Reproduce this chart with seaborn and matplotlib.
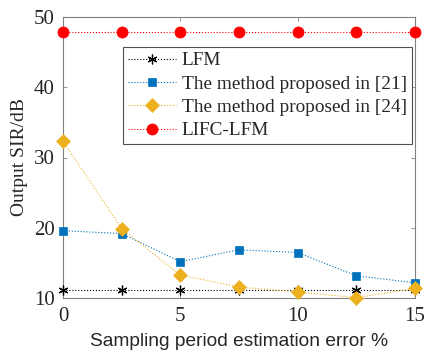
import numpy as np
import pandas as pd
import matplotlib
matplotlib.use("Agg")
import matplotlib.pyplot as plt
import seaborn as sns

x = [0, 2.5, 5, 7.5, 10, 12.5, 15]
lfm = [11.2, 11.2, 11.2, 11.2, 11.2, 11.2, 11.2]
m21 = [19.6, 19.2, 15.2, 16.9, 16.5, 13.2, 12.2]
m24 = [32.3, 19.9, 13.3, 11.6, 10.9, 10.1, 11.4]
lifc = [47.8, 47.8, 47.8, 47.8, 47.8, 47.8, 47.8]
names = ["LFM", "The method proposed in [21]", "The method proposed in [24]", "LIFC-LFM"]
colors = ["#000000", "#0072BD", "#EDB120", "#FF0000"]
markers = [(6, 2, 0), "s", "D", "o"]
msizes = [7, 6, 7, 8]

sns.set_style("ticks")
plt.rcParams['font.family'] = ['Liberation Serif', 'DejaVu Serif']

df = pd.DataFrame({"x": x * 4,
                   "y": lfm + m21 + m24 + lifc,
                   "s": sum([[n] * len(x) for n in names], [])})

fig = plt.figure(figsize=(4.24, 3.53), dpi=100)
ax = fig.add_axes([63/424, 1 - 298.3/353, (415-63)/424, (298.3-16.7)/353])

for i, (n, c, m, ms) in enumerate(zip(names, colors, markers, msizes)):
    sub = df[df.s == n]
    sns.lineplot(data=sub, x="x", y="y", ax=ax, color=c, marker=m, markersize=ms,
                 linestyle=":", linewidth=0.8, markeredgecolor=c,
                 markeredgewidth=0.9 if i == 0 else 0.5, label=n, clip_on=False, zorder=3)

ax.set_xlim(0, 15)
ax.set_ylim(10, 50)
ax.set_xticks([0, 5, 10, 15])
ax.set_yticks([10, 20, 30, 40, 50])
for s in ax.spines.values():
    s.set_visible(True)
    s.set_color("#808080")
    s.set_linewidth(0.8)
ax.tick_params(direction="in", top=True, right=True, length=3, width=0.6,
               color="#808080", labelsize=15, pad=6, labelcolor="#262626")
ax.set_xlabel("Sampling period estimation error %", family=['Liberation Sans'], fontsize=13.8, labelpad=5, color="#262626")
ax.set_ylabel("Output SIR/dB", fontsize=14, color="#262626", labelpad=4)

leg = ax.legend(loc="upper left", bbox_to_anchor=((123-63)/352, 1 - (47-16.7)/281.6),
                fontsize=13.9, frameon=True, fancybox=False, edgecolor="#262626",
                handlelength=2.5, borderpad=0.25, labelspacing=0.3, handletextpad=0.3, borderaxespad=0)
leg.get_frame().set_linewidth(0.8)

fig.savefig("out.png", dpi=100)
